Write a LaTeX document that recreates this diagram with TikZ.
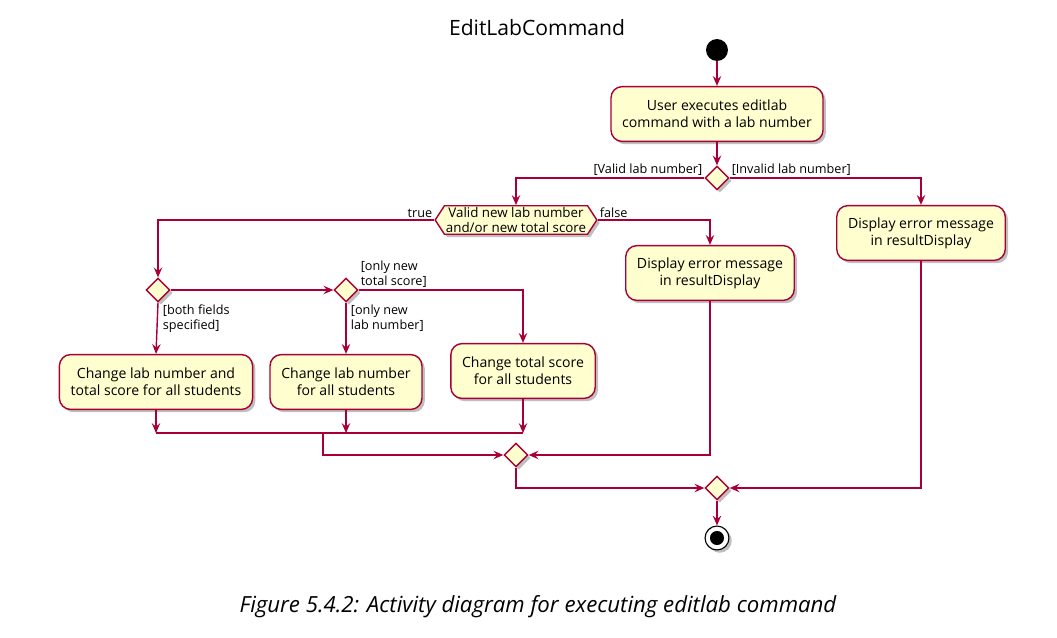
\documentclass[tikz,border=0pt]{standalone}
\usepackage{fontspec}
\setmainfont{Open Sans}
\usetikzlibrary{shapes.geometric,shapes.symbols,shadows,arrows.meta}
\definecolor{umlred}{HTML}{A80036}
\definecolor{umlfill}{HTML}{FEFECE}
\tikzset{
  boxshadow/.style={drop shadow={shadow xshift=2pt,shadow yshift=-2pt,opacity=0.25,fill=black}},
  activity/.style={draw=umlred,fill=umlfill,line width=1pt,rounded corners=8pt,align=center,
    inner xsep=8pt,minimum height=39pt,font=\fontsize{10}{12}\selectfont,boxshadow},
  choice/.style={diamond,draw=umlred,fill=umlfill,line width=1pt,inner sep=0pt,
    minimum width=17pt,minimum height=17pt,boxshadow},
  test/.style={signal,signal to=west and east,signal pointer angle=114,draw=umlred,fill=umlfill,
    line width=1pt,align=center,inner sep=1pt,font=\fontsize{9.5}{11}\selectfont,boxshadow},
  flow/.style={draw=umlred,line width=1pt,-{Stealth[length=7pt,width=6pt,inset=2.5pt]}},
  wire/.style={draw=umlred,line width=1pt},
  guard/.style={font=\fontsize{9}{11}\selectfont,align=left,inner sep=1pt,text=black},
}
\begin{document}
\begin{tikzpicture}[x=0.025cm,y=-0.025cm]
	\useasboundingbox (0,0) rectangle (1057,637);
	\node[font=\fontsize{15}{17}\selectfont] (title) at (537,28) {EditLabCommand};

	\node[circle,fill=black,minimum size=15.6pt,inner sep=0pt] (start) at (717,50) {};
	\node[activity] (cmd) at (717,114) {User executes editlab\\command with a lab number};
	\node[choice] (d1) at (717,178) {};
	\node[test] (valid) at (516,220) {Valid new lab number\\and/or new total score};
	\node[activity] (errright) at (921,233) {Display error message\\in resultDisplay};
	\node[activity] (errmid) at (710,273) {Display error message\\in resultDisplay};
	\node[choice] (d2) at (158,290) {};
	\node[choice] (d3) at (346,290) {};
	\node[activity] (both) at (156,382) {Change lab number and\\total score for all students};
	\node[activity] (labonly) at (346,382) {Change lab number\\for all students};
	\node[activity] (scoreonly) at (523,371) {Change total score\\for all students};
	\coordinate (m1) at (156,433);
	\coordinate (m2) at (346,433);
	\coordinate (m3) at (523,433);
	\coordinate (mj) at (323,433);
	\node[choice] (d4) at (516,455) {};
	\node[choice] (d5) at (717,488) {};
	\node[circle,draw=black,fill=white,line width=0.8pt,minimum size=17pt,inner sep=0pt,boxshadow,
	  path picture={\fill[black] (path picture bounding box.center) circle (5pt);}] (stop) at (717,538) {};

	\draw[flow] (start) -- (cmd);
	\draw[flow] (cmd) -- (d1);
	\draw[flow] (d1.west) -| node[guard,pos=0,anchor=south east]{[Valid lab number]} (valid.north);
	\draw[flow] (d1.east) -| node[guard,pos=0,anchor=south west]{[Invalid lab number]} (errright.north);
	\draw[flow] (valid.west) -| node[guard,pos=0,anchor=south east]{true} (d2.north);
	\draw[flow] (valid.east) -| node[guard,pos=0,anchor=south west]{false} (errmid.north);
	\draw[flow] (d2.east) -- (d3.west);
	\draw[flow] (d2.south) -- node[guard,pos=0,anchor=north west,xshift=2pt]{[both fields\\specified]} (both.north);
	\draw[flow] (d3.south) -- node[guard,pos=0,anchor=north west,xshift=2pt]{[only new\\lab number]} (labonly.north);
	\draw[flow] (d3.east) -| node[guard,pos=0,anchor=south west]{[only new\\total score]} (scoreonly.north);
	\draw[flow] (both) -- (m1);
	\draw[flow] (labonly) -- (m2);
	\draw[flow] (scoreonly) -- (m3);
	\draw[wire] (m1) -- (m3);
	\draw[flow] (mj) |- (d4.west);
	\draw[flow] (errmid.south) |- (d4.east);
	\draw[flow] (d4.south) |- (d5.west);
	\draw[flow] (errright.south) |- (d5.east);
	\draw[flow] (d5) -- (stop);

	\node[font=\itshape\fontsize{15.8}{18}\selectfont] (caption) at (538,607) {Figure 5.4.2: Activity diagram for executing editlab command};
\end{tikzpicture}
\end{document}
